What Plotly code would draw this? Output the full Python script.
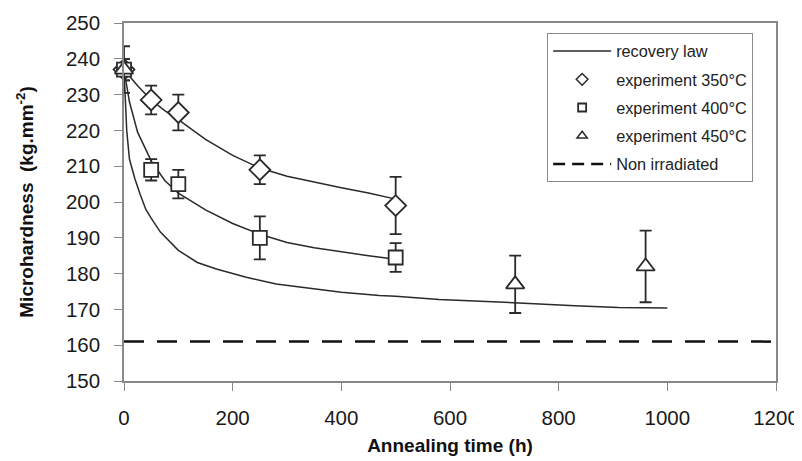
import plotly.graph_objects as go

# recovery law curves
t350 = [0, 25, 50, 75, 100, 150, 200, 250, 300, 350, 400, 450, 500]
law350 = [237, 232.5, 228.5, 225.5, 223, 217.5, 213, 209.5, 207.2, 205.5, 204, 202.5, 200.8]

t400 = [0, 5, 10, 25, 50, 75, 100, 150, 200, 250, 300, 350, 400, 450, 500]
law400 = [237, 232, 228, 219.5, 211.5, 206, 202.5, 197.8, 194, 191, 188.7, 187.2, 186, 185, 184]

t450 = [0, 2, 5, 10, 20, 30, 40, 50, 67, 100, 135, 170, 225, 280, 340, 400, 470, 500,
        580, 690, 755, 830, 910, 1000]
law450 = [237, 229, 220, 212, 206.5, 202, 198, 195.5, 191.6, 186.5, 183.1, 181.3, 179,
          177.1, 176, 174.8, 173.9, 173.7, 172.8, 172.1, 171.6, 171, 170.5, 170.4]

# experiments
exp350_t = [0, 50, 100, 250, 500]
exp350_v = [237, 228.5, 225, 209, 199]
exp350_e = [3, 4, 5, 4, 8]

exp400_t = [0, 50, 100, 250, 500]
exp400_v = [237, 209, 205, 190, 184.5]
exp400_e = [3, 3, 4, 6, 4]

exp450_t = [0, 720, 960]
exp450_v = [237, 177, 182]
exp450_e = [6.5, 8, 10]

non_irr_t = [0, 1200]
non_irr_v = [161, 161]

x_ticks = [0, 200, 400, 600, 800, 1000, 1200]
y_ticks = [150, 160, 170, 180, 190, 200, 210, 220, 230, 240, 250]

LINE = "#2a2a2a"
fig = go.Figure()

for tt, vv in [(t350, law350), (t400, law400), (t450, law450)]:
    fig.add_trace(go.Scatter(x=tt, y=vv, mode="lines", line=dict(color=LINE, width=1.5),
                             showlegend=False, hoverinfo="skip"))

fig.add_trace(go.Scatter(x=non_irr_t, y=non_irr_v, mode="lines",
                         line=dict(color="#111", width=2.5, dash="20px,13px"),
                         showlegend=False))

def exp_trace(tt, vv, ee, sym, size):
    return go.Scatter(x=tt, y=vv, mode="markers", cliponaxis=False,
                      marker=dict(symbol=sym, size=size, color="white",
                                  line=dict(color=LINE, width=1.8)),
                      error_y=dict(type="data", array=ee, visible=True, color=LINE,
                                   thickness=1.8, width=6),
                      showlegend=False)

fig.add_trace(exp_trace(exp350_t, exp350_v, exp350_e, "diamond", 16))
fig.add_trace(exp_trace(exp400_t, exp400_v, exp400_e, "square", 14))
fig.add_trace(exp_trace(exp450_t, exp450_v, exp450_e, "triangle-up", 16))

# legend-only entries
leg = [
    ("recovery law", dict(mode="lines", line=dict(color=LINE, width=1.5))),
    ("experiment 350°C", dict(mode="markers", marker=dict(symbol="diamond", size=9, color="white", line=dict(color=LINE, width=1.5)))),
    ("experiment 400°C", dict(mode="markers", marker=dict(symbol="square", size=8, color="white", line=dict(color=LINE, width=1.8)))),
    ("experiment 450°C", dict(mode="markers", marker=dict(symbol="triangle-up", size=9, color="white", line=dict(color=LINE, width=1.5)))),
    ("Non irradiated", dict(mode="lines", line=dict(color="#111", width=2.5, dash="12px,7px"))),
]
for i, (name, kw) in enumerate(leg):
    fig.add_trace(go.Scatter(x=[None], y=[None], name=name, legendgroup=f"g{i}", **kw))

# The page body adds an 8px offset, so the figure is 8px smaller and margins compensate.
fig.update_layout(
    width=794, height=453,
    margin=dict(l=116, r=26, t=15, b=80, autoexpand=False),
    paper_bgcolor="white", plot_bgcolor="white",
    font=dict(family="Liberation Sans, Arial, sans-serif", color="#1a1a1a"),
    showlegend=True,
    legend=dict(x=0.649, y=0.972, xanchor="left", yanchor="top",
                bordercolor="#8a8a8a", borderwidth=1, bgcolor="white",
                font=dict(size=16.3, color="#222"), traceorder="grouped",
                tracegroupgap=4, itemwidth=58),
    xaxis=dict(range=[0, 1200], tickvals=x_ticks, ticks="outside", ticklen=8,
               tickcolor="#888", tickwidth=1.2, showline=True, linecolor="#888",
               linewidth=1.5, mirror=True, showgrid=False, zeroline=False,
               automargin=False,
               tickfont=dict(size=20.5, color="#1a1a1a"), ticklabelstandoff=10,
               title=dict(text="<b>Annealing time (h)</b>", font=dict(size=19, color="#111"),
                          standoff=10)),
    yaxis=dict(range=[150, 250], tickvals=y_ticks, ticks="outside", ticklen=8,
               tickcolor="#888", tickwidth=1.2, showline=True, linecolor="#888",
               linewidth=1.5, mirror=True, showgrid=False, zeroline=False,
               automargin=False,
               tickfont=dict(size=20.5, color="#1a1a1a"), ticklabelstandoff=10,
               title=dict(text="<b>Microhardness  (kg.mm<sup>-2</sup>)</b>",
                          font=dict(size=19, color="#111"), standoff=27)),
)

fig.write_html("out.html")
